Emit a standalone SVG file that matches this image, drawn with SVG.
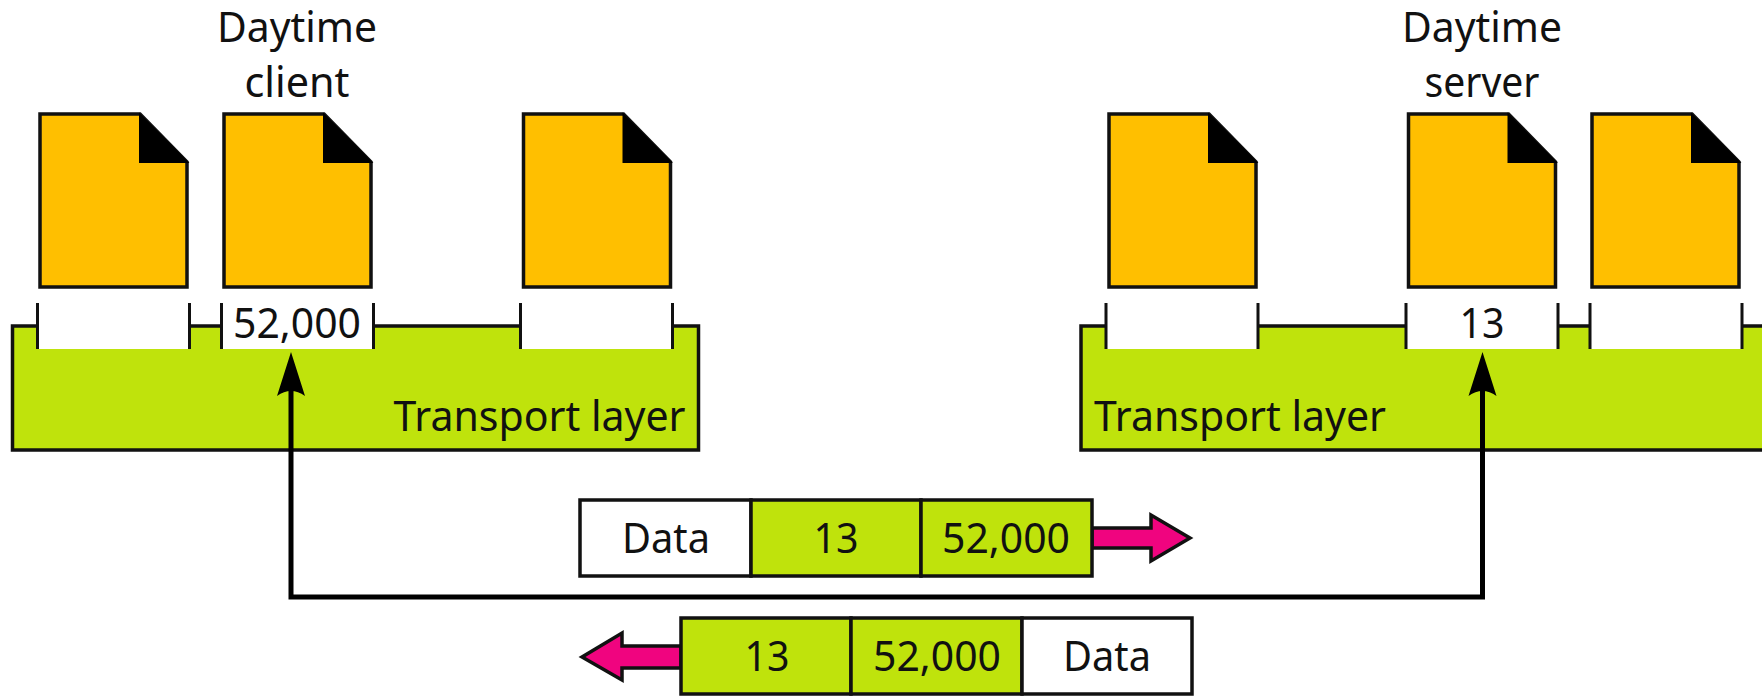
<svg xmlns="http://www.w3.org/2000/svg" width="1762" height="696" viewBox="0 0 1762 696">
<style>
text{font-family:"Noto Sans","Open Sans",sans-serif;font-size:41px;fill:#111;text-anchor:middle}
.doc{fill:#ffbf00;stroke:#111;stroke-width:3.5}
.fold{fill:#000;stroke:#000;stroke-width:2}
.layer{fill:#bfe30c;stroke:#111;stroke-width:3.5}
.slot{fill:#fff;stroke:none}
.tick{stroke:#111;stroke-width:3;fill:none}
.box{stroke:#111;stroke-width:3.5}
.g{fill:#bfe30c}.w{fill:#fff}
.pink{fill:#f0047f;stroke:#111;stroke-width:3.500;stroke-linejoin:miter}
.wire{fill:none;stroke:#000;stroke-width:5}
</style>
<defs>
<g id="file"><path class="doc" d="M0 0H100L147 48V173H0Z"/><path class="fold" d="M100 1V48H147Z"/></g>
<g id="port"><rect class="slot" x="0" y="0" width="152" height="46"/><path class="tick" d="M0 0V46M152 0V46"/></g>
</defs>
<g id="layer-left"><rect class="layer" x="12.5" y="326" width="686" height="124"/><use href="#port" x="37.500" y="303"/><use href="#port" x="221.500" y="303"/><use href="#port" x="520.500" y="303"/><text x="539.500" y="431" textLength="292" lengthAdjust="spacingAndGlyphs">Transport layer</text><text x="297" y="338" textLength="128" lengthAdjust="spacingAndGlyphs">52,000</text></g>
<g id="layer-right"><rect class="layer" x="1081" y="326" width="690" height="124"/><use href="#port" x="1106" y="303"/><use href="#port" x="1406" y="303"/><use href="#port" x="1590" y="303"/><text x="1240" y="431" textLength="292" lengthAdjust="spacingAndGlyphs">Transport layer</text><text x="1482" y="338" textLength="45" lengthAdjust="spacingAndGlyphs">13</text></g>
<g id="proc-1"><use href="#file" x="40" y="114"/></g>
<g id="proc-2"><use href="#file" x="224" y="114"/><text x="297" y="42" textLength="160" lengthAdjust="spacingAndGlyphs">Daytime</text><text x="297" y="97" textLength="105" lengthAdjust="spacingAndGlyphs">client</text></g>
<g id="proc-3"><use href="#file" x="523.500" y="114"/></g>
<g id="proc-4"><use href="#file" x="1109" y="114"/></g>
<g id="proc-5"><use href="#file" x="1408.500" y="114"/><text x="1482" y="42" textLength="160" lengthAdjust="spacingAndGlyphs">Daytime</text><text x="1482" y="97" textLength="115" lengthAdjust="spacingAndGlyphs">server</text></g>
<g id="proc-6"><use href="#file" x="1592" y="114"/></g>
<g id="connectors"><path class="wire" d="M291 390V597H1482.500V390"/><path d="M291 352L277 396Q291 386 305 396Z"/><path d="M1482.500 352L1468.500 396Q1482.500 386 1496.500 396Z"/></g>
<g id="packet-out"><path class="pink" d="M1092 528H1151V515L1190 538L1151 561V548H1092Z"/><rect class="box w" x="580" y="500" width="171" height="76"/><rect class="box g" x="751" y="500" width="170" height="76"/><rect class="box g" x="921" y="500" width="171" height="76"/><text x="666" y="553" textLength="88" lengthAdjust="spacingAndGlyphs">Data</text><text x="836" y="553" textLength="45" lengthAdjust="spacingAndGlyphs">13</text><text x="1006" y="553" textLength="128" lengthAdjust="spacingAndGlyphs">52,000</text></g>
<g id="packet-in"><path class="pink" d="M681 646H622V633L582 657L622 680V668H681Z"/><rect class="box g" x="681" y="618" width="170" height="76"/><rect class="box g" x="851" y="618" width="171" height="76"/><rect class="box w" x="1022" y="618" width="170" height="76"/><text x="767" y="671" textLength="45" lengthAdjust="spacingAndGlyphs">13</text><text x="937" y="671" textLength="128" lengthAdjust="spacingAndGlyphs">52,000</text><text x="1107" y="671" textLength="88" lengthAdjust="spacingAndGlyphs">Data</text></g>
</svg>
